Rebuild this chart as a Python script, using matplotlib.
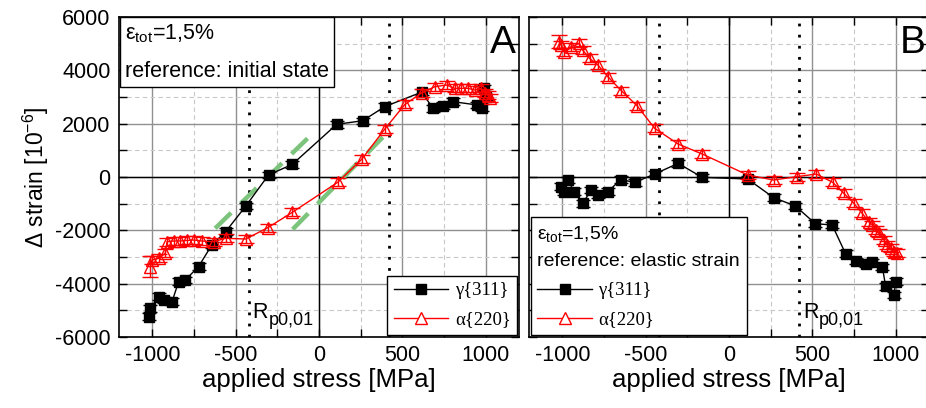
import matplotlib
matplotlib.use("Agg")
import matplotlib.pyplot as plt
from matplotlib.lines import Line2D
from matplotlib.ticker import MultipleLocator

plt.rcParams["font.family"] = ["Liberation Sans", "DejaVu Sans"]
plt.rcParams["mathtext.default"] = "regular"
plt.rcParams["axes.unicode_minus"] = False

# panel A, reference: initial state
a_gam_x = [-1022, -1012, -962, -932, -882, -842, -802, -723, -643, -560, -439,
           -303, -160, 106, 262, 395, 615, 685, 744, 804, 950, 975, 990, 1000]
a_gam_y = [-5237, -4925, -4487, -4612, -4675, -3925, -3862, -3362, -2550, -2050,
           -1087, 75, 475, 1975, 2110, 2640, 3180, 2575, 2680, 2825, 2700, 2600,
           3340, 3000]
a_alp_x = [-1012, -1002, -962, -922, -912, -872, -832, -792, -752, -702, -633,
           -560, -439, -307, -160, 112, 256, 395, 515, 615, 695, 765, 814, 854,
           894, 934, 974, 994, 1014, 1024]
a_alp_y = [-3362, -3112, -3050, -2862, -2425, -2400, -2400, -2380, -2362, -2400,
           -2425, -2300, -2325, -1900, -1325, -200, 660, 1800, 2720, 3150, 3387,
           3450, 3325, 3325, 3325, 3262, 3325, 3137, 3075, 2950]
a_alp_err = [400] + [150] * 29

# green guide lines (elastic slopes)
fit1_x = [-623, -54]
fit1_y = [-1925, 1537]
fit2_x = [-158, 425]
fit2_y = [-1962, 1762]

# panel B, reference: elastic strain
b_gam_x = [-1008, -988, -968, -928, -878, -827, -787, -727, -650, -565, -446,
           -305, -161, 112, 267, 398, 518, 619, 699, 759, 819, 860, 920, 940,
           990, 1000]
b_gam_y = [-362, -550, -112, -550, -987, -487, -675, -550, -100, -200, 112, 512,
           -12, -75, -770, -1087, -1750, -1800, -2870, -3150, -3270, -3200,
           -3370, -4100, -4425, -3925]
b_alp_x = [-1018, -1008, -988, -948, -898, -878, -837, -787, -727, -646, -552,
           -446, -305, -161, 112, 267, 408, 524, 622, 689, 749, 799, 839, 860,
           880, 899, 930, 950, 970, 990, 1010]
b_alp_y = [5073, 4950, 4700, 4887, 5012, 4762, 4450, 4200, 3762, 3237, 2675,
           1825, 1237, 862, 75, -112, 12, 112, -200, -612, -987, -1362, -1675,
           -1800, -1987, -2112, -2362, -2550, -2675, -2800, -2862]
b_alp_err = [250] + [150] * 30

rp = 420

fig = plt.figure(figsize=(9.26, 4.08), dpi=100)
ax_a = fig.add_axes([119 / 926, 71 / 408, 400 / 926, 320 / 408])
ax_b = fig.add_axes([529 / 926, 71 / 408, 400 / 926, 320 / 408])


def style_axes(ax):
    ax.set_xlim(-1200, 1200)
    ax.set_ylim(-6000, 6000)
    ax.xaxis.set_major_locator(MultipleLocator(500))
    ax.xaxis.set_minor_locator(MultipleLocator(250))
    ax.yaxis.set_major_locator(MultipleLocator(2000))
    ax.yaxis.set_minor_locator(MultipleLocator(1000))
    ax.grid(True, which="major", color="#909090", lw=1.0, ls="-")
    ax.grid(True, which="minor", color="#c8c8c8", lw=0.8, ls=(0, (4, 3)))
    ax.set_axisbelow(True)
    ax.axhline(0, color="black", lw=1.0, zorder=1)
    ax.axvline(0, color="black", lw=1.0, zorder=1)
    ax.tick_params(which="both", direction="in", top=True, right=True,
                   length=6, width=1, labelsize=15.5, pad=6)
    for sp in ax.spines.values():
        sp.set_linewidth(1.2)
    ax.set_xlabel("applied stress [MPa]", fontsize=18.5, labelpad=1)
    for x in (-rp, rp):
        ax.axvline(x, color="black", lw=2, ls=(0, (1, 3)), zorder=2)


def draw_series(ax, gx, gy, ax_, ay, aerr):
    ax.errorbar(gx, gy, yerr=120, color="black", lw=1, marker="s", ms=7.5,
                capsize=5, elinewidth=1, zorder=4)
    ax.errorbar(ax_, ay, yerr=aerr, color="red", lw=1, marker="^", ms=9,
                mfc="none", mec="red", capsize=6, elinewidth=1, zorder=5)


def rp_label(ax, x):
    ax.text(x, -5300, "R", fontsize=15.5, ha="left", va="baseline")
    ax.annotate("p0,01", xy=(x, -5300), xytext=(11.5, -5), textcoords="offset points",
                fontsize=13, ha="left", va="baseline")


style_axes(ax_a)
style_axes(ax_b)
ax_b.tick_params(labelleft=False)

ax_a.plot(fit1_x, fit1_y, color="#7cc47c", lw=3.2, ls=(0, (5, 3)), zorder=3)
ax_a.plot(fit2_x, fit2_y, color="#7cc47c", lw=3.2, ls=(0, (5, 3)), zorder=3)
draw_series(ax_a, a_gam_x, a_gam_y, a_alp_x, a_alp_y, a_alp_err)
draw_series(ax_b, b_gam_x, b_gam_y, b_alp_x, b_alp_y, b_alp_err)

ax_a.set_ylabel("Δ strain [10$^{-6}$]", fontsize=16.5, labelpad=3)

ax_a.text(-1165, 5800, "ε$_{tot}$=1,5%\nreference: initial state", fontsize=15.5,
          va="top", ha="left", linespacing=2.0,
          bbox=dict(boxstyle="square,pad=0.22", fc="white", ec="black", lw=1))
ax_a.text(1180, 5700, "A", fontsize=28, ha="right", va="top")
ax_b.text(1180, 5700, "B", fontsize=28, ha="right", va="top")

rp_label(ax_a, -400)
rp_label(ax_b, 445)

handles = [
    Line2D([], [], color="black", lw=1, marker="s", ms=7.5),
    Line2D([], [], color="red", lw=1, marker="^", ms=9, mfc="white", mec="red"),
]
labels = ["γ{311}", "α{220}"]

leg_a = ax_a.legend(handles, labels, loc="lower right",
                    prop={"family": "Liberation Serif", "size": 13.5},
                    frameon=True, fancybox=False, edgecolor="black",
                    framealpha=1, handlelength=2.9, handletextpad=0.35,
                    borderaxespad=0.1, borderpad=0.35, labelspacing=0.65)
leg_a.get_frame().set_linewidth(1)

leg_b = ax_b.legend(handles, labels, loc="lower left",
                    prop={"family": "Liberation Serif", "size": 13.5},
                    title="ε$_{tot}$=1,5%\nreference: elastic strain",
                    title_fontproperties={"family": "Liberation Sans", "size": 14},
                    alignment="left", frameon=True, fancybox=False,
                    edgecolor="black", framealpha=1, handlelength=2.9,
                    handletextpad=0.35, borderaxespad=0.1, borderpad=0.35,
                    labelspacing=0.65)
leg_b.get_title().set_linespacing(1.7)
leg_b.get_frame().set_linewidth(1)

fig.savefig("out.png", dpi=100)
